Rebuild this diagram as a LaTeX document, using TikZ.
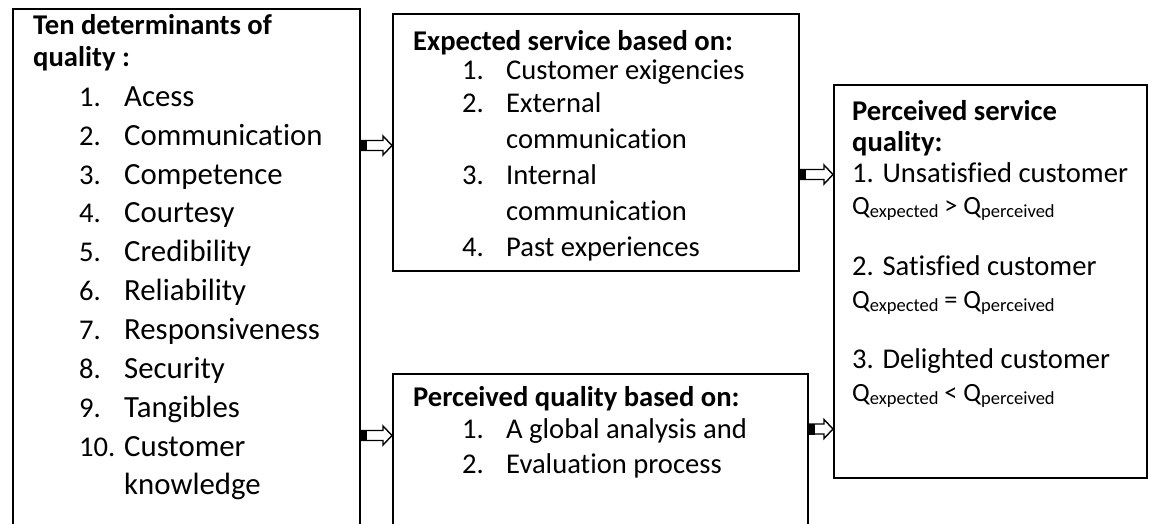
\documentclass[tikz,border=0pt]{standalone}
\usepackage{fontspec}
\setmainfont{Carlito}[Ligatures=NoCommon]
\usetikzlibrary{calc}
\newcommand\qsub[1]{\raisebox{-3.5pt}{\fontsize{18.5}{20}\selectfont #1}}
\newcommand\blkarrow[2]{%
  \draw[ablk] ($(#1)+(0,-5)$) -- ($(#2)+(-9,-5)$) -- ($(#2)+(-9,-9.5)$) -- (#2)
     -- ($(#2)+(-9,9.5)$) -- ($(#2)+(-9,5)$) -- ($(#1)+(0,5)$);
  \fill ($(#1)+(0,-5.5)$) rectangle ($(#1)+(6,5.5)$);}
\begin{document}
\begin{tikzpicture}[x=1pt,y=-1pt,
  box/.style={draw, line width=2.2pt, rectangle, inner sep=0, anchor=north west},
  t/.style={anchor=base west, inner sep=0, font=\fontsize{28.6}{30}\selectfont},
  tl/.style={anchor=base west, inner sep=0, font=\fontsize{30.8}{32}\selectfont},
  tb/.style={anchor=base west, inner sep=0, font=\fontsize{28.6}{30}\selectfont\bfseries},
  q/.style={anchor=base west, inner sep=0, font=\fontsize{26.3}{28}\selectfont},
  ablk/.style={draw=black, line width=1.4pt, fill=white, line join=miter}]
\clip (0,0) rectangle (1149,523);
\fill[white] (0,0) rectangle (1149,523);
% boxes
\node[box, minimum width=347pt, minimum height=560pt] (L) at (12,8) {};
\node[box, minimum width=406pt, minimum height=257pt] (M1) at (392,13) {};
\node[box, minimum width=415pt, minimum height=200pt] (M2) at (392,373) {};
\node[box, minimum width=313pt, minimum height=393pt] (R) at (833,84) {};
% arrows
\coordinate (a1s) at (L.east |- 0,145.5);
\coordinate (a1e) at (M1.west |- 0,145.5);
\coordinate (a2s) at (L.east |- 0,435.5);
\coordinate (a2e) at (M2.west |- 0,435.5);
\coordinate (a3s) at (M1.east |- 0,174.5);
\coordinate (a3e) at (R.west |- 0,174.5);
\coordinate (a4s) at (M2.east |- 0,429);
\coordinate (a4e) at (R.west |- 0,429);
\blkarrow{a1s}{a1e}
\blkarrow{a2s}{a2e}
\blkarrow{a3s}{a3e}
\blkarrow{a4s}{a4e}
% left box text
\node[tb] (lh1) at (33,34) {Ten determinants of};
\node[tb] (lh2) at (33,66) {quality :};
\node[t] (ln1) at (79,106) {1.}; \node[tl] (li1) at (124,106) {Acess};
\node[t] (ln2) at (79,145) {2.}; \node[tl] (li2) at (124,145) {Communication};
\node[t] (ln3) at (79,184) {3.}; \node[tl] (li3) at (124,184) {Competence};
\node[t] (ln4) at (79,222) {4.}; \node[tl] (li4) at (124,222) {Courtesy};
\node[t] (ln5) at (79,261) {5.}; \node[tl] (li5) at (124,261) {Credibility};
\node[t] (ln6) at (79,300) {6.}; \node[tl] (li6) at (124,300) {Reliability};
\node[t] (ln7) at (79,339) {7.}; \node[tl] (li7) at (124,339) {Responsiveness};
\node[t] (ln8) at (79,378) {8.}; \node[tl] (li8) at (124,378) {Security};
\node[t] (ln9) at (79,417) {9.}; \node[tl] (li9) at (124,417) {Tangibles};
\node[t] (ln10) at (79,456) {10.}; \node[tl] (li10) at (124,456) {Customer};
\node[tl] (li10b) at (124,494) {knowledge};
% middle top text
\node[tb] (mh) at (413,50) {Expected service based on:};
\node[t] (mn1) at (462,79) {1.}; \node[t] (mi1) at (506,79) {Customer exigencies};
\node[t] (mn2) at (462,112) {2.}; \node[t] (mi2) at (506,112) {External};
\node[t] (mi2b) at (506,148) {communication};
\node[t] (mn3) at (462,184) {3.}; \node[t] (mi3) at (506,184) {Internal};
\node[t] (mi3b) at (506,220) {communication};
\node[t] (mn4) at (462,256) {4.}; \node[t] (mi4) at (506,256) {Past experiences};
% middle bottom text
\node[tb] (bh) at (413,406) {Perceived quality based on:};
\node[t] (bn1) at (462,438) {1.}; \node[t] (bi1) at (506,438) {A global analysis and};
\node[t] (bn2) at (462,473) {2.}; \node[t] (bi2) at (506,473) {Evaluation process};
% right text
\node[tb] (rh1) at (852,120) {Perceived service};
\node[tb] (rh2) at (852,151) {quality:};
\node[t] (r1) at (852,182) {1. Unsatisfied customer};
\node[q] (q1) at (852,214) {Q\qsub{expected} > Q\qsub{perceived}};
\node[t] (r2) at (852,275) {2. Satisfied customer};
\node[q] (q2) at (852,308) {Q\qsub{expected} = Q\qsub{perceived}};
\node[t] (r3) at (852,368) {3. Delighted customer};
\node[q] (q3) at (852,401) {Q\qsub{expected} < Q\qsub{perceived}};
\end{tikzpicture}
\end{document}
